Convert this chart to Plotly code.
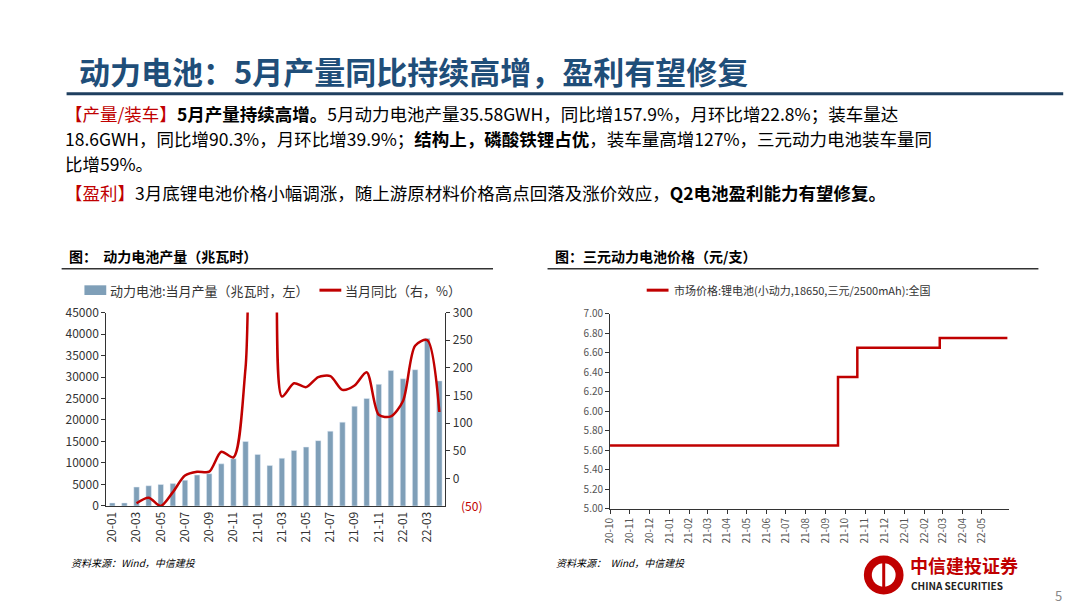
import plotly.graph_objects as go

W, H = 1080, 608
FONT = "Noto Sans CJK SC"

# left chart: monthly production (MWh) and yoy (%)
months = ['20-01','20-02','20-03','20-04','20-05','20-06','20-07','20-08','20-09','20-10',
          '20-11','20-12','21-01','21-02','21-03','21-04','21-05','21-06','21-07','21-08',
          '21-09','21-10','21-11','21-12','22-01','22-02','22-03','22-04']
production = [700, 700, 4400, 4700, 5000, 5200, 6000, 7200, 7500, 9800,
              11000, 15000, 12000, 9400, 11100, 12900, 13700, 15200, 17400, 19500,
              23200, 25000, 28300, 31500, 29600, 31700, 39000, 29100]
yoy = [None, None, -45, -35, -50, -25, 5, 12, 12, 48,
       38, 200, 600, 600, 148, 172, 165, 183, 185, 160,
       168, 192, 115, 112, 140, 240, 250, 120]

# right chart: battery price (yuan/cell)
price_dates = ['2020-10-01','2021-09-20','2021-10-20','2022-02-25','2022-06-10']
price_vals = [5.65, 6.35, 6.65, 6.75, 6.75]
price_ticks = ['2020-10-01','2020-11-01','2020-12-01','2021-01-01','2021-02-01','2021-03-01',
               '2021-04-01','2021-05-01','2021-06-01','2021-07-01','2021-08-01','2021-09-01',
               '2021-10-01','2021-11-01','2021-12-01','2022-01-01','2022-02-01','2022-03-01',
               '2022-04-01','2022-05-01']

def px(x): return x / W
def py(y): return 1 - y / H

fig = go.Figure()
fig.add_trace(go.Bar(x=months, y=production, name='动力电池:当月产量（兆瓦时，左）',
                     marker_color='#7f9fb8', width=0.45, xaxis='x', yaxis='y'))
fig.add_trace(go.Scatter(x=months, y=yoy, name='当月同比（右，%）', mode='lines',
                         line=dict(color='#c00000', width=2.5, shape='spline', smoothing=0.8),
                         xaxis='x', yaxis='y2', cliponaxis=True))
fig.add_trace(go.Scatter(x=price_dates, y=price_vals, mode='lines', showlegend=False,
                         line=dict(color='#c00000', width=2.5, shape='hv'),
                         xaxis='x3', yaxis='y3'))

axfont = dict(family=FONT, size=12, color='#333')
fig.update_layout(
    width=W, height=H, margin=dict(l=0, r=0, t=0, b=0),
    plot_bgcolor='white', paper_bgcolor='white', showlegend=False,
    xaxis=dict(domain=[px(90), px(432)], type='category', tickangle=-90, tickfont=axfont,
               tickvals=months[::2], showline=True, linecolor='#333', ticks='', anchor='y'),
    yaxis=dict(domain=[py(502), py(303)], range=[0, 45000], dtick=5000, tickfont=axfont,
               tickformat='d', showline=True, linecolor='#333', showgrid=False,
               ticks='outside', ticklen=4, tickcolor='#333'),
    yaxis2=dict(overlaying='y', side='right', range=[-50, 300], dtick=50, showgrid=False,
                showline=True, linecolor='#333', ticks='outside', ticklen=4, tickcolor='#333',
                tickfont=axfont, tickvals=[0, 50, 100, 150, 200, 250, 300], zeroline=False),
    xaxis3=dict(domain=[px(598), px(1000)], anchor='y3', type='date',
                range=['2020-10-01', '2022-06-12'], tickvals=price_ticks, tickformat='%y-%m',
                tickangle=-90, tickfont=dict(family=FONT, size=10, color='#555'),
                showline=True, linecolor='#333', ticks='outside', ticklen=4, tickcolor='#333',
                showgrid=False),
    yaxis3=dict(domain=[py(505), py(304)], anchor='x3', range=[5.0, 7.0], dtick=0.2,
                tickformat='.2f', tickfont=dict(family=FONT, size=10, color='#555'),
                showline=True, linecolor='#333', ticks='outside', ticklen=4, tickcolor='#333',
                showgrid=False, zeroline=False),
)

ann = []
def txt(x, y, s, size=14, color='#000', anchor='left', **kw):
    ann.append(dict(xref='paper', yref='paper', x=px(x), y=py(y), text=s, showarrow=False,
                    xanchor=anchor, yanchor='middle', font=dict(family=FONT, size=size, color=color), **kw))

txt(60, 54, '<b>动力电池：5月产量同比持续高增，盈利有望修复</b>', size=31, color='#1f4e79')
R = '#c00000'
txt(46, 98, f'<span style="color:{R}">【产量/装车】</span><b>5月产量持续高增。</b>5月动力电池产量35.58GWH，同比增157.9%，月环比增22.8%；装车量达', size=17.5)
txt(46, 124, '18.6GWH，同比增90.3%，月环比增39.9%；<b>结构上，磷酸铁锂占优</b>，装车量高增127%，三元动力电池装车量同', size=17.5)
txt(46, 150, '比增59%。', size=17.5)
txt(46, 180, f'<span style="color:{R}">【盈利】</span>3月底锂电池价格小幅调涨，随上游原材料价格高点回落及涨价效应，<b>Q2电池盈利能力有望修复。</b>', size=17.5)

txt(50, 245, '<b>图：  动力电池产量（兆瓦时）</b>', size=14)
txt(540, 245, '<b>图：三元动力电池价格（元/支）</b>', size=14)
txt(92, 280, '动力电池:当月产量（兆瓦时，左）', size=13, color='#333')
txt(329, 280, '当月同比（右，%）', size=13, color='#333')
txt(660, 280, '市场价格:锂电池(小动力,18650,三元/2500mAh):全国', size=11, color='#333')
txt(446, 502, '(50)', size=12, color=R)
txt(52, 560, '<i>资料来源：Wind，中信建投</i>', size=10)
txt(542, 560, '<i>资料来源：  Wind，中信建投</i>', size=10)
txt(898, 563, '<b>中信建投证券</b>', size=18, color='#c00000')
txt(899, 584, '<b>CHINA SECURITIES</b>', size=10, color='#222')
txt(1050, 594, '5', size=13, color='#888', anchor='center')
fig.update_layout(annotations=ann)

shapes = [
    dict(type='line', xref='paper', yref='paper', x0=px(50), x1=px(1055), y0=py(78), y1=py(78),
         line=dict(color='#1f3f5f', width=3)),
    dict(type='line', xref='paper', yref='paper', x0=px(45), x1=px(480), y0=py(258), y1=py(258),
         line=dict(color='#333', width=1.5)),
    dict(type='line', xref='paper', yref='paper', x0=px(535), x1=px(1030), y0=py(258), y1=py(258),
         line=dict(color='#333', width=1.5)),
    dict(type='rect', xref='paper', yref='paper', x0=px(68), x1=px(90), y0=py(285), y1=py(275),
         fillcolor='#7f9fb8', line=dict(width=0)),
    dict(type='line', xref='paper', yref='paper', x0=px(305), x1=px(327), y0=py(280), y1=py(280),
         line=dict(color=R, width=3)),
    dict(type='line', xref='paper', yref='paper', x0=px(635), x1=px(657), y0=py(280), y1=py(280),
         line=dict(color=R, width=3)),
    dict(type='circle', xref='paper', yref='paper', x0=px(855), x1=px(893), y0=py(592), y1=py(554),
         fillcolor='#c00000', line=dict(color='#c00000')),
    dict(type='circle', xref='paper', yref='paper', x0=px(862), x1=px(886), y0=py(585), y1=py(561),
         fillcolor='white', line=dict(width=0)),
    dict(type='line', xref='paper', yref='paper', x0=px(874), x1=px(874), y0=py(586), y1=py(560),
         line=dict(color='#c00000', width=3)),
]
fig.update_layout(shapes=shapes)

fig.write_html("out.html")
